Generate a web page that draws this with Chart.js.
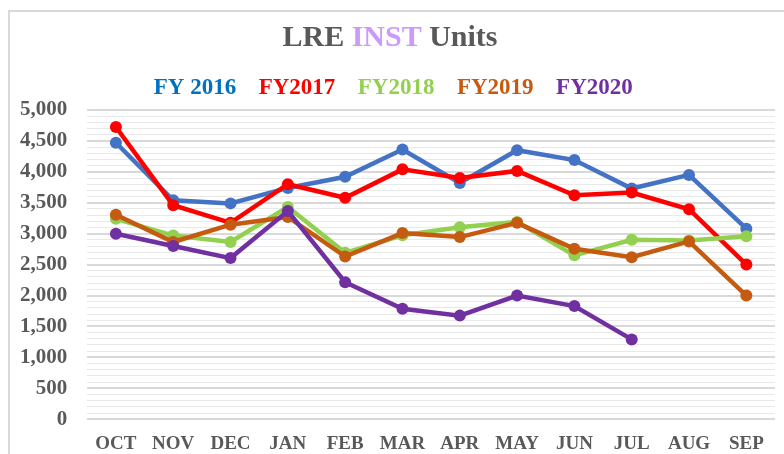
<!DOCTYPE html>
<html>
<head>
<meta charset="utf-8">
<script src="https://cdn.jsdelivr.net/npm/chart.js@4"></script>
<style>
  html, body { margin: 0; padding: 0; background: #fff; overflow: hidden; }
  #frame {
    position: absolute; left: 8px; top: 10px; width: 800px; height: 470px;
    border: 2px solid #d9d9d9; box-sizing: border-box;
  }
  #wrap { position: absolute; left: 0; top: 0; width: 784px; height: 454px; }
</style>
</head>
<body>
<div id="frame"></div>
<div id="wrap"><canvas id="lineChart"></canvas></div>
<script>
// month categories
const months = ["OCT", "NOV", "DEC", "JAN", "FEB", "MAR", "APR", "MAY", "JUN", "JUL", "AUG", "SEP"];

// units per fiscal year
const fy2016 = [4470, 3540, 3490, 3740, 3920, 4360, 3820, 4350, 4190, 3730, 3950, 3080];
const fy2017 = [4725, 3460, 3175, 3800, 3580, 4040, 3900, 4015, 3620, 3665, 3395, 2500];
const fy2018 = [3240, 2970, 2865, 3430, 2690, 2975, 3105, 3190, 2650, 2900, 2890, 2960];
const fy2019 = [3305, 2865, 3145, 3270, 2630, 3010, 2945, 3175, 2755, 2620, 2875, 2000];
const fy2020 = [3000, 2800, 2605, 3365, 2215, 1785, 1675, 2000, 1830, 1290, null, null];

const seriesNames = ["FY 2016", "FY2017", "FY2018", "FY2019", "FY2020"];
const lineColors = ["#4472C4", "#FF0000", "#92D050", "#C55A11", "#7030A0"];
const legendColors = ["#0070C0", "#FF0000", "#92D050", "#C55A11", "#7030A0"];

// title text pieces
const titleParts = [
  { text: "LRE ", color: "#595959" },
  { text: "INST", color: "#CC99FF" },
  { text: " Units", color: "#595959" }
];

const serif = "'Liberation Serif', 'Times New Roman', serif";

// two-colour title
const titlePlugin = {
  id: "mixedTitle",
  afterDraw(chart) {
    const ctx = chart.ctx;
    ctx.save();
    ctx.font = "bold 30px " + serif;
    ctx.textBaseline = "alphabetic";
    let total = 0;
    titleParts.forEach((p) => (total += ctx.measureText(p.text).width));
    let x = 390 - total / 2;
    titleParts.forEach((p) => {
      ctx.fillStyle = p.color;
      ctx.fillText(p.text, x, 46);
      x += ctx.measureText(p.text).width;
    });
    ctx.restore();
  }
};

const allData = [fy2016, fy2017, fy2018, fy2019, fy2020];

const ctx = document.getElementById("lineChart").getContext("2d");
new Chart(ctx, {
  type: "line",
  data: {
    labels: months,
    datasets: allData.map((d, i) => ({
      label: seriesNames[i],
      data: d,
      borderColor: lineColors[i],
      backgroundColor: lineColors[i],
      pointBackgroundColor: lineColors[i],
      pointBorderColor: lineColors[i],
      borderWidth: 4.5,
      pointRadius: 6,
      pointBorderWidth: 0,
      tension: 0,
      spanGaps: false,
      order: allData.length - i
    }))
  },
  options: {
    responsive: true,
    maintainAspectRatio: false,
    animation: false,
    layout: { padding: { top: 66, left: 0, right: 9, bottom: -6 } },
    scales: {
      x: {
        offset: true,
        grid: { display: false },
        border: { display: false },
        ticks: {
          color: "#595959",
          font: { family: serif, size: 19, weight: "bold" },
          padding: 5,
          maxRotation: 0
        }
      },
      y: {
        min: 0,
        max: 5000,
        border: { display: false },
        grid: {
          drawTicks: false,
          color: (c) => (c.tick && c.tick.value % 500 === 0 ? "#d9d9d9" : "#e9e9e9"),
          lineWidth: (c) => (c.tick && c.tick.value % 500 === 0 ? 2 : 1)
        },
        ticks: {
          stepSize: 100,
          autoSkip: false,
          padding: 20,
          color: "#595959",
          font: { family: serif, size: 21, weight: "bold" },
          callback: function (value) {
            return value % 500 === 0 ? value.toLocaleString("en-US") : "";
          }
        }
      }
    },
    plugins: {
      title: { display: false },
      tooltip: { enabled: false },
      legend: {
        display: true,
        position: "top",
        labels: {
          boxWidth: 0,
          boxHeight: 0,
          padding: 11,
          font: { family: serif, size: 23, weight: "bold" },
          generateLabels: function (chart) {
            return chart.data.datasets.map((ds, i) => ({
              text: ds.label,
              fontColor: legendColors[i],
              fillStyle: "rgba(0,0,0,0)",
              strokeStyle: "rgba(0,0,0,0)",
              lineWidth: 0,
              hidden: false,
              datasetIndex: i
            }));
          }
        }
      }
    }
  },
  plugins: [titlePlugin]
});
</script>
</body>
</html>
